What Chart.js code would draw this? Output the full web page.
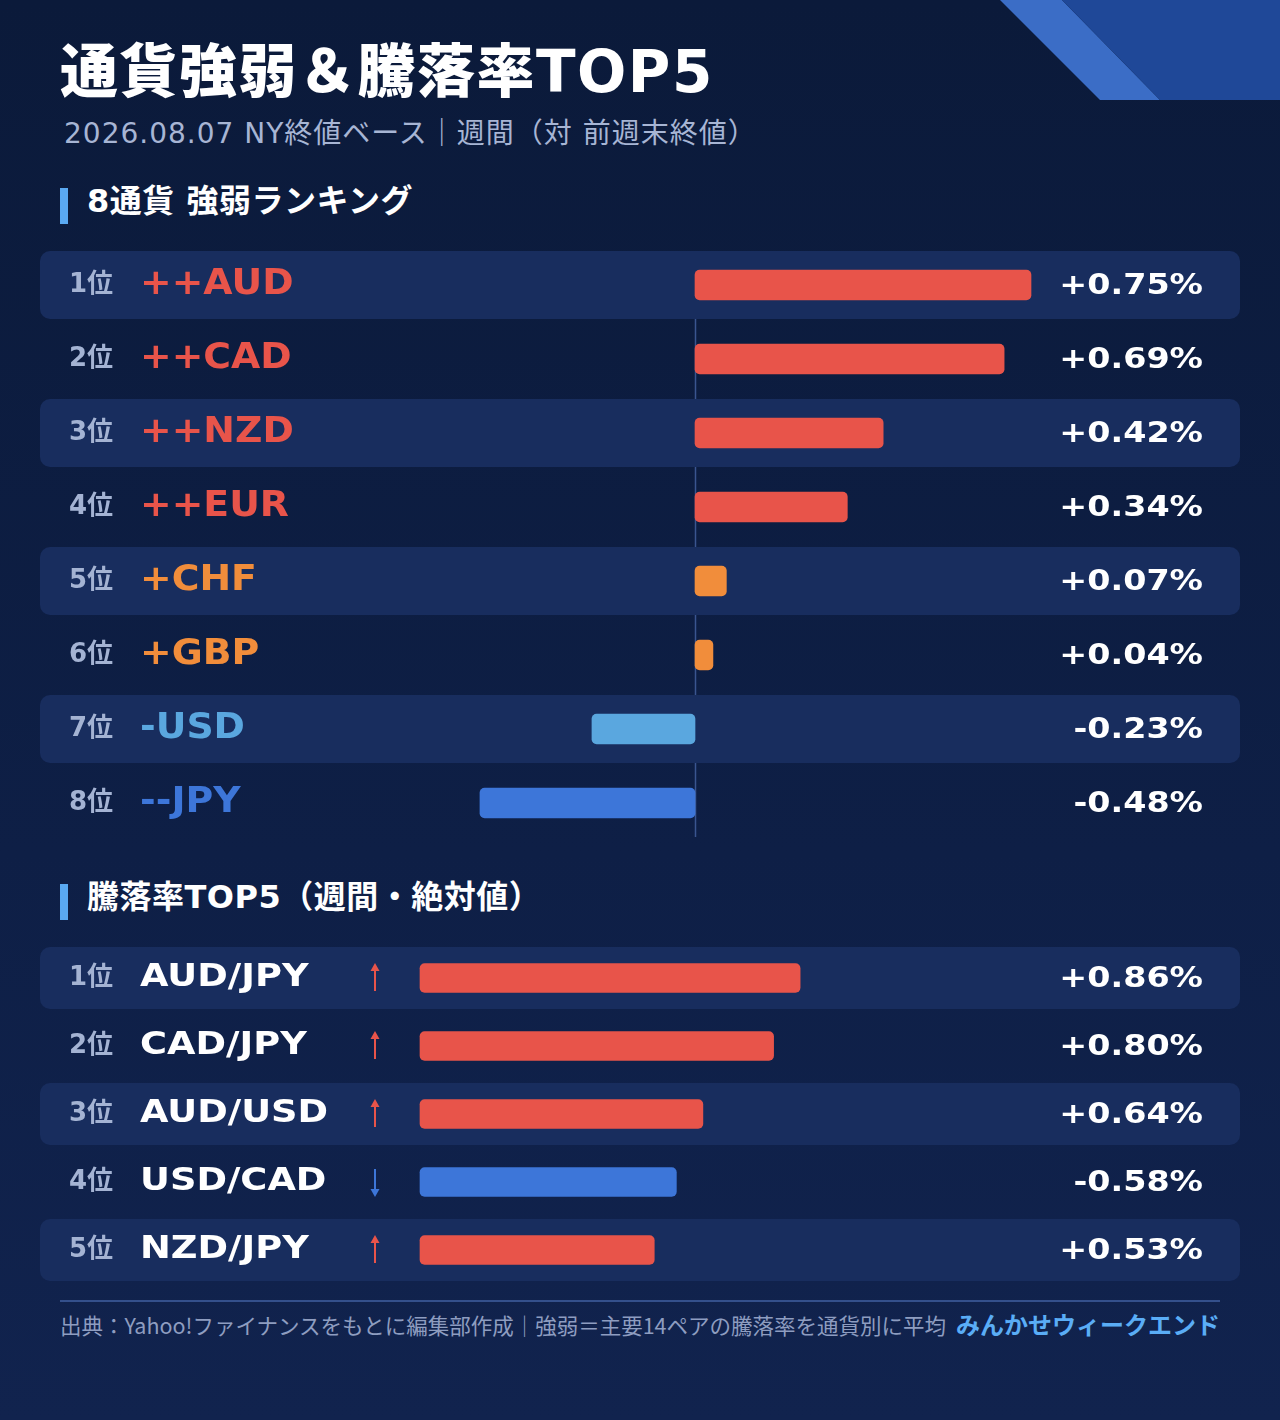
<!DOCTYPE html>
<html lang="ja">
<head>
<meta charset="utf-8">
<title>通貨強弱＆騰落率TOP5</title>
<script src="https://cdn.jsdelivr.net/npm/chart.js@4.4.1/dist/chart.umd.min.js"></script>
<style>
  html, body { margin: 0; padding: 0; }
  body {
    width: 1280px; height: 1420px; position: relative; overflow: hidden;
    background: linear-gradient(180deg, #0b1a3a 0%, #0e1f46 60%, #11234e 100%);
    font-family: "DejaVu Sans", "Noto Sans CJK JP", sans-serif;
    color: #fff;
  }
  .abs { position: absolute; white-space: nowrap; }
  #corner { position: absolute; left: 0; top: 0; }
  #title { left: 60px; top: 34px; font-size: 58px; font-weight: 900; letter-spacing: 1.5px; line-height: 76px; }
  #sub { left: 64px; top: 114px; font-size: 28px; color: #a7b5d4; line-height: 40px; letter-spacing: 1px; }
  .head { left: 87px; font-size: 32px; font-weight: 700; line-height: 40px; letter-spacing: 0.5px; }
  .headbar { position: absolute; left: 60px; width: 8px; background: #5aa9f2; }
  #foot { left: 60px; top: 1310px; font-size: 21.5px; color: #8e9dc0; line-height: 30px; font-family: "Noto Sans CJK JP", sans-serif; }
  #brand { right: 60px; top: 1308px; font-size: 24px; font-weight: 700; color: #5aadf6; line-height: 32px; font-family: "Noto Sans CJK JP", sans-serif; }
  #rule { position: absolute; left: 60px; top: 1300px; width: 1160px; height: 2px; background: #34508c; }
  canvas { position: absolute; }
</style>
</head>
<body>
<svg id="corner" width="1280" height="110">
  <polygon points="1000,0 1062,0 1160,100 1100,100" fill="#3b6dc6"/>
  <polygon points="1062,0 1280,0 1280,100 1160,100" fill="#1f4898"/>
</svg>

<div id="title" class="abs">通貨強弱＆騰落率TOP5</div>
<div id="sub" class="abs">2026.08.07 NY終値ベース｜週間（対 前週末終値）</div>

<div class="headbar" style="top:188px;height:36px"></div>
<div class="abs head" style="top:181px">8通貨 強弱ランキング</div>
<canvas id="strength" width="1200" height="592" style="left:40px;top:248px"></canvas>

<div class="headbar" style="top:884px;height:36px"></div>
<div class="abs head" style="top:877px">騰落率TOP5（週間・絶対値）</div>
<canvas id="movers" width="1200" height="340" style="left:40px;top:944px"></canvas>

<div id="rule"></div>
<div id="foot" class="abs">出典：Yahoo!ファイナンスをもとに編集部作成｜強弱＝主要14ペアの騰落率を通貨別に平均</div>
<div id="brand" class="abs">みんかせウィークエンド</div>

<script>
// 8通貨 強弱
var currencies = ['AUD', 'CAD', 'NZD', 'EUR', 'CHF', 'GBP', 'USD', 'JPY'];
var strengthMarks = ['++', '++', '++', '++', '+', '+', '-', '--'];
var weeklyChange = [0.75, 0.69, 0.42, 0.34, 0.07, 0.04, -0.23, -0.48];

// 騰落率TOP5
var pairs = ['AUD/JPY', 'CAD/JPY', 'AUD/USD', 'USD/CAD', 'NZD/JPY'];
var pairChange = [0.86, 0.80, 0.64, -0.58, 0.53];

var markColors = { '++': '#e8544a', '+': '#f18d3b', '-': '#5aa7df', '--': '#3d76d9' };
var UP = '#e8544a', DOWN = '#3d76d9';
var BAND = '#182d5e';
var FONT = '"DejaVu Sans", "Noto Sans CJK JP", sans-serif';

var fmt = function(v) {
  return (v > 0 ? '+' : '') + v.toFixed(2) + '%';
};

// 横に少し伸ばして描く（元画像の文字が横長なので）
var wideText = function(ctx, text, x, y, font, color, align, sx) {
  ctx.save();
  ctx.font = font;
  ctx.fillStyle = color;
  ctx.textBaseline = 'middle';
  ctx.textAlign = align;
  ctx.translate(x, y);
  ctx.scale(sx, 1);
  ctx.fillText(text, 0, 0);
  ctx.restore();
};

var band = function(ctx, x, y, w, h, r, color) {
  ctx.save();
  ctx.fillStyle = color;
  ctx.beginPath();
  ctx.roundRect(x, y, w, h, r);
  ctx.fill();
  ctx.restore();
};

var strengthDeco = {
  id: 'strengthDeco',
  beforeDatasetsDraw: function(chart) {
    var ctx = chart.ctx, a = chart.chartArea;
    var xs = chart.scales.x, ys = chart.scales.y;
    var zx = Math.round(xs.getPixelForValue(0)) + 0.5;
    ctx.save();
    ctx.strokeStyle = '#3a5590';
    ctx.lineWidth = 1.5;
    ctx.beginPath();
    ctx.moveTo(zx, a.top + 3);
    ctx.lineTo(zx, a.bottom - 3);
    ctx.stroke();
    ctx.restore();
    for (var i = 0; i < currencies.length; i += 2) {
      var cy = ys.getPixelForValue(i);
      band(ctx, a.left, cy - 34, a.right - a.left, 68, 10, BAND);
    }
  },
  afterDatasetsDraw: function(chart) {
    var ctx = chart.ctx, ys = chart.scales.y;
    for (var i = 0; i < currencies.length; i++) {
      var cy = ys.getPixelForValue(i);
      wideText(ctx, (i + 1) + '位', 73, cy, 'bold 26px ' + FONT, '#a4b3d3', 'right', 1);
      wideText(ctx, strengthMarks[i] + currencies[i], 100, cy, 'bold 35px ' + FONT, markColors[strengthMarks[i]], 'left', 1.08);
      wideText(ctx, fmt(weeklyChange[i]), 1163, cy + 1, 'bold 29px ' + FONT, '#ffffff', 'right', 1.15);
    }
  }
};

var moversDeco = {
  id: 'moversDeco',
  beforeDatasetsDraw: function(chart) {
    var ctx = chart.ctx, a = chart.chartArea, ys = chart.scales.y;
    for (var i = 0; i < pairs.length; i += 2) {
      var cy = ys.getPixelForValue(i);
      band(ctx, a.left, cy - 31, a.right - a.left, 62, 10, BAND);
    }
  },
  afterDatasetsDraw: function(chart) {
    var ctx = chart.ctx, ys = chart.scales.y;
    for (var i = 0; i < pairs.length; i++) {
      var cy = ys.getPixelForValue(i);
      var up = pairChange[i] > 0;
      wideText(ctx, (i + 1) + '位', 73, cy, 'bold 26px ' + FONT, '#a4b3d3', 'right', 1);
      wideText(ctx, pairs[i], 100, cy, 'bold 32px ' + FONT, '#ffffff', 'left', 1.15);
      wideText(ctx, fmt(pairChange[i]), 1163, cy + 1, 'bold 29px ' + FONT, '#ffffff', 'right', 1.15);
      // 矢印
      var ax = 335;
      ctx.save();
      ctx.strokeStyle = ctx.fillStyle = up ? UP : DOWN;
      ctx.lineWidth = 2;
      ctx.beginPath();
      ctx.moveTo(ax, cy - 13);
      ctx.lineTo(ax, cy + 13);
      ctx.stroke();
      ctx.beginPath();
      if (up) {
        ctx.moveTo(ax - 4.5, cy - 7); ctx.lineTo(ax + 4.5, cy - 7); ctx.lineTo(ax, cy - 15);
      } else {
        ctx.moveTo(ax - 4.5, cy + 7); ctx.lineTo(ax + 4.5, cy + 7); ctx.lineTo(ax, cy + 15);
      }
      ctx.fill();
      ctx.restore();
    }
  }
};

var baseOptions = function(min, max) {
  return {
    indexAxis: 'y',
    responsive: false,
    animation: false,
    layout: { padding: 0 },
    scales: {
      x: { type: 'linear', min: min, max: max, display: false },
      y: { display: false, offset: true }
    },
    plugins: { legend: { display: false }, tooltip: { enabled: false } }
  };
};

new Chart(document.getElementById('strength'), {
  type: 'bar',
  data: {
    labels: currencies,
    datasets: [{
      data: weeklyChange,
      backgroundColor: strengthMarks.map(function(m) { return markColors[m]; }),
      barThickness: 30,
      borderRadius: 5,
      borderSkipped: false
    }]
  },
  options: baseOptions(-655 / 448, 545 / 448),
  plugins: [strengthDeco]
});

new Chart(document.getElementById('movers'), {
  type: 'bar',
  data: {
    labels: pairs,
    datasets: [{
      data: pairChange.map(function(v) { return Math.abs(v); }),
      backgroundColor: pairChange.map(function(v) { return v > 0 ? UP : DOWN; }),
      barThickness: 29,
      borderRadius: 5,
      borderSkipped: false
    }]
  },
  options: baseOptions(-380 / 442, 820 / 442),
  plugins: [moversDeco]
});
</script>
</body>
</html>
